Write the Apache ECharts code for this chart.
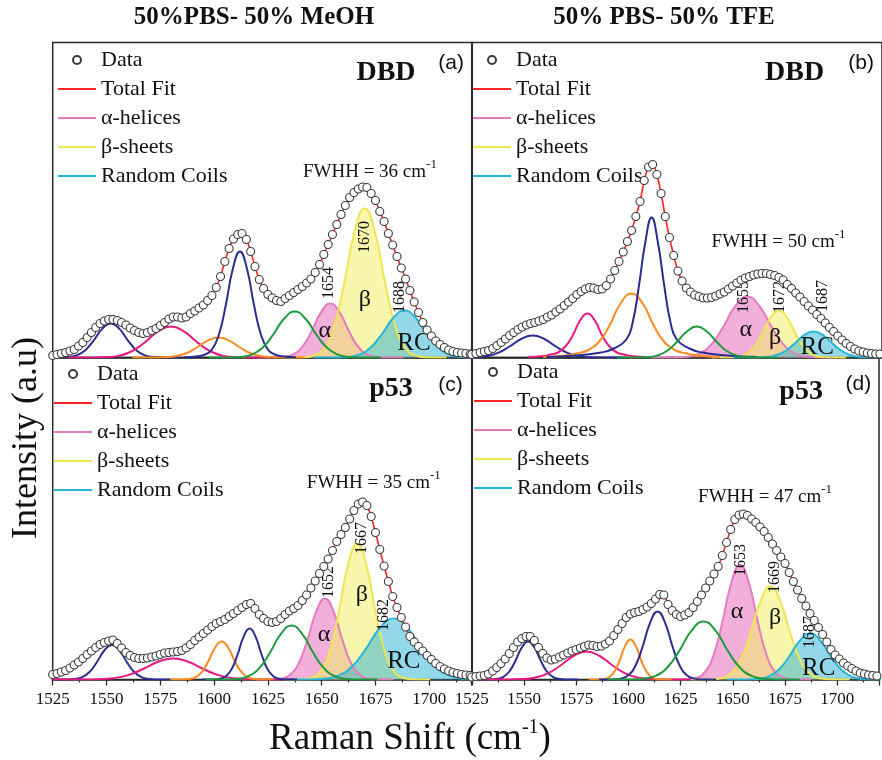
<!DOCTYPE html>
<html><head><meta charset="utf-8">
<script src="https://cdn.jsdelivr.net/npm/echarts@6/dist/echarts.min.js"></script>
<style>html,body{margin:0;padding:0;background:#fff}#c{width:882px;height:760px}</style>
</head><body><div id="c"></div>
<script>
// x grid of the measured spectra (cm^-1)
const ramanShift = []; for (let x = 1525; x <= 1719; x += 2) ramanShift.push(x);

// ---- measured data (a.u.) ----
const aData = [2,3,4,5,6.5,8,11.5,15,20,25,
30,34,36.5,38,38,37,35,32.5,29.5,27,
25,24,25,27,29,32,35,38.5,40.5,40.5,
39.5,40.5,44,46.5,49.5,52.5,57,62,70,81,
96,109,118.5,123,124,118,106,91,78,69,
63,59.5,57,56,59,62,65,68,71,74.5,
78.5,85,93,103,113,123,133,143,152,160,
165,168.5,170.5,170,164,157,146,136,124,112.5,
101,89.5,78.5,67,55.5,45,35,27.5,21.5,16.5,
13,10,7.5,6,5,4.5,4,3.5];
const bData = [3,4,5,6,7,9,12,15,18.5,22,
25,28,30.5,32.5,34,35,36.5,38,40.5,42.5,
45.5,48.5,52,55.5,59,63,66,68.5,70,69.5,
68,68.5,72,78.5,87,96,105.5,116,127,141,
156,177,190.5,193,183,164,141,120,102,86.5,
76.5,69.5,65.5,62.5,61,59.5,59.5,60,61.5,63.5,
65.5,68.5,71.5,74.5,77.5,79.5,81,82.5,83.5,84,
84,83,82,80,77.5,73,69,64.5,60.5,56,
51.5,47.5,43,39,34.5,30,26,21.5,17.5,14,
11,8.5,6.5,5.5,4.5,4,3.5,3.5];
const cData = [5,6,7.5,9,11.5,14.5,17.5,21,25,28.5,
32,35,37,38.5,39.5,36,31.5,27,24,22,
21,21,21.5,22.5,23.5,25,26.5,27,27.5,28,
29,31.5,35,39,42.5,46,49.5,53,56,58,
60,63,66,69,72,75,76,71,65,61,
58,57,58,61,65,68.5,71,74,79,84.5,
91.5,98.5,106,113,120.5,129,138,145,152,160.5,
169,175.5,177.5,174,163,147,130,113.5,98,83,
72,62,52.5,43,37.5,33,28.5,24,20,16,
13,10.5,8.5,7,6,5,4.5,4];
const dData = [2.5,3,3.5,4,5.5,8.5,12,16,20.5,26,
32,37.5,41,43,43,39,32,26,21.5,19.5,
20.5,22.5,24.5,26.5,28.5,30,31.5,33,34.5,34,
33,33.5,35.5,38.5,44,50,56,62,65.5,67,
68,70,72.5,76,80.5,85,84.5,75,69,65,
63,64.5,67,72,78,84.5,91.5,98.5,105.5,113,
124,137,150,160,164.5,165.5,164,160.5,157,152.5,
148,142,135.5,129,122.5,116,107,98,89.5,81,
73.5,66,59,52,45,37.5,30,24.5,20.5,16.5,
13.5,11,8.5,6.5,5.5,4.5,4,3.5];

// ---- fitted bands, [shift, intensity] ----
const aNavy1 = [[1520,0],[1528,0.1],[1532,0.4],[1536,2.1],[1540,7.1],[1544,17],[1548,28.6],[1552,34],[1556,28.6],[1560,17],[1564,7.1],[1568,2.1],[1572,0.4],[1576,0.1],[1584,0]];
const aMagenta = [[1532,0],[1544,0.1],[1550,0.4],[1556,1.9],[1562,6.5],[1568,15.5],[1574,26.1],[1580,31],[1586,26.1],[1592,15.5],[1598,6.5],[1604,1.9],[1610,0.4],[1616,0.1],[1628,0]];
const aOrange = [[1562,0],[1572,0],[1577,0.3],[1582,1.3],[1587,4.2],[1592,10],[1597,16.8],[1602,20],[1607,16.8],[1612,10],[1617,4.2],[1622,1.3],[1627,0.3],[1632,0],[1642,0]];
const aNavy2 = [[1586,0.2],[1592.5,1.2],[1595.75,3],[1599,8],[1602.25,23],[1605.5,53],[1608.75,89],[1612,106],[1615.25,89],[1618.5,53],[1621.75,23],[1625,8],[1628.25,3],[1631.5,1.2],[1638,0.2]];
const aGreen = [[1597.5,0],[1607.5,0.1],[1612.5,0.6],[1617.5,2.9],[1622.5,9.7],[1627.5,23],[1632.5,38.7],[1637.5,46],[1642.5,38.7],[1647.5,23],[1652.5,9.7],[1657.5,2.9],[1662.5,0.6],[1667.5,0.1],[1677.5,0]];
const aAlpha = [[1620,0],[1628.5,0.1],[1632.75,0.7],[1637,3.4],[1641.25,11.3],[1645.5,27],[1649.75,45.4],[1654,54],[1658.25,45.4],[1662.5,27],[1666.75,11.3],[1671,3.4],[1675.25,0.7],[1679.5,0.1],[1688,0]];
const aBeta = [[1632,0],[1641.5,0.3],[1646.25,1.9],[1651,9.3],[1655.75,31.3],[1660.5,74.5],[1665.25,125.3],[1670,149],[1674.75,125.3],[1679.5,74.5],[1684.25,31.3],[1689,9.3],[1693.75,1.9],[1698.5,0.3],[1708,0]];
const aRC = [[1646.5,0],[1657,0.1],[1662.25,0.6],[1667.5,2.9],[1672.75,9.9],[1678,23.5],[1683.25,39.5],[1688.5,47],[1693.75,39.5],[1699,23.5],[1704.25,9.9],[1709.5,2.9],[1714.75,0.6],[1720,0.1],[1730.5,0]];

const bNavy1 = [[1510,0],[1521,0.1],[1526.5,0.3],[1532,1.4],[1537.5,4.6],[1543,11],[1548.5,18.5],[1554,22],[1559.5,18.5],[1565,11],[1570.5,4.6],[1576,1.4],[1581.5,0.3],[1587,0.1],[1598,0]];
const bMagenta = [[1552,0.5],[1559,1.5],[1562.5,3],[1566,5],[1569.5,11],[1573,22],[1576.5,37],[1580,44],[1583.5,37],[1587,22],[1590.5,11],[1594,5],[1597.5,3],[1601,1.5],[1608,0.5]];
const bOrange = [[1559,0.5],[1569.5,2],[1574.75,4],[1580,7],[1585.25,15],[1590.5,32],[1595.75,54],[1601,64],[1606.25,54],[1611.5,32],[1616.75,15],[1622,7],[1627.25,4],[1632.5,2],[1643,0.5]];
const bNavy2 = [[1560.5,0.5],[1574.5,2],[1586.5,5],[1592.5,9],[1598.5,18],[1601.5,35],[1604.5,72],[1607.5,115],[1610.5,140],[1613.5,115],[1616.5,72],[1619.5,35],[1622.5,18],[1628.5,9],[1634.5,5],[1646.5,2],[1660.5,0.5]];
const bGreen = [[1594,0],[1603.5,0.1],[1608.25,0.4],[1613,1.9],[1617.75,6.5],[1622.5,15.5],[1627.25,26],[1632,31],[1636.75,26],[1641.5,15.5],[1646.25,6.5],[1651,1.9],[1655.75,0.4],[1660.5,0.1],[1670,0]];
const bAlpha = [[1610,0],[1621.5,0.1],[1627.25,0.8],[1633,3.8],[1638.75,12.8],[1644.5,30.5],[1650.25,51.3],[1656,61],[1661.75,51.3],[1667.5,30.5],[1673.25,12.8],[1679,3.8],[1684.75,0.8],[1690.5,0.1],[1702,0]];
const bBeta = [[1639,0],[1647,0.1],[1651,0.6],[1655,2.9],[1659,9.9],[1663,23.5],[1667,39.5],[1671,47],[1675,39.5],[1679,23.5],[1683,9.9],[1687,2.9],[1691,0.6],[1695,0.1],[1703,0]];
const bRC = [[1649.5,0],[1659,0],[1663.75,0.3],[1668.5,1.6],[1673.25,5.5],[1678,13],[1682.75,21.9],[1687.5,26],[1692.25,21.9],[1697,13],[1701.75,5.5],[1706.5,1.6],[1711.25,0.3],[1716,0],[1725.5,0]];

const cNavy1 = [[1524.5,0],[1531.5,0.1],[1535,0.4],[1538.5,2.2],[1542,7.2],[1545.5,17.3],[1549,29],[1552.5,34.5],[1556,29],[1559.5,17.3],[1563,7.2],[1566.5,2.2],[1570,0.4],[1573.5,0.1],[1580.5,0]];
const cMagenta = [[1525,0],[1539,0],[1546,0.3],[1553,1.3],[1560,4.4],[1567,10.5],[1574,17.7],[1581,21],[1588,17.7],[1595,10.5],[1602,4.4],[1609,1.3],[1616,0.3],[1623,0],[1637,0]];
const cOrange = [[1579.5,0],[1585.5,0.1],[1588.5,0.5],[1591.5,2.4],[1594.5,8],[1597.5,19],[1600.5,32],[1603.5,38],[1606.5,32],[1609.5,19],[1612.5,8],[1615.5,2.4],[1618.5,0.5],[1621.5,0.1],[1627.5,0]];
const cNavy2 = [[1594.5,0],[1600,0.1],[1602.75,0.7],[1605.5,3.2],[1608.25,10.7],[1611,25.5],[1613.75,42.9],[1616.5,51],[1619.25,42.9],[1622,25.5],[1624.75,10.7],[1627.5,3.2],[1630.25,0.7],[1633,0.1],[1638.5,0]];
const cGreen = [[1596,0],[1606,0.1],[1611,0.7],[1616,3.4],[1621,11.3],[1626,27],[1631,45.4],[1636,54],[1641,45.4],[1646,27],[1651,11.3],[1656,3.4],[1661,0.7],[1666,0.1],[1676,0]];
const cAlpha = [[1619.5,0],[1627.5,0.2],[1631.5,1.1],[1635.5,5.1],[1639.5,17],[1643.5,40.5],[1647.5,68.1],[1651.5,81],[1655.5,68.1],[1659.5,40.5],[1663.5,17],[1667.5,5.1],[1671.5,1.1],[1675.5,0.2],[1683.5,0]];
const cBeta = [[1632.5,0],[1641,0.3],[1645.25,1.8],[1649.5,8.5],[1653.75,28.6],[1658,68],[1662.25,114.4],[1666.5,136],[1670.75,114.4],[1675,68],[1679.25,28.6],[1683.5,8.5],[1687.75,1.8],[1692,0.3],[1700.5,0]];
const cRC = [[1631.5,0],[1644.5,0.1],[1651,0.8],[1657.5,3.8],[1664,12.8],[1670.5,30.5],[1677,51.3],[1683.5,61],[1690,51.3],[1696.5,30.5],[1703,12.8],[1709.5,3.8],[1716,0.8],[1722.5,0.1],[1735.5,0]];

const dNavy1 = [[1528,0],[1534,0.1],[1537,0.5],[1540,2.4],[1543,8],[1546,19],[1549,32],[1552,38],[1555,32],[1558,19],[1561,8],[1564,2.4],[1567,0.5],[1570,0.1],[1576,0]];
const dMagenta = [[1530,0],[1542.5,0.1],[1548.75,0.4],[1555,1.8],[1561.25,5.9],[1567.5,14],[1573.75,23.5],[1580,28],[1586.25,23.5],[1592.5,14],[1598.75,5.9],[1605,1.8],[1611.25,0.4],[1617.5,0.1],[1630,0]];
const dOrange = [[1581,0],[1586,0.1],[1588.5,0.5],[1591,2.5],[1593.5,8.4],[1596,20],[1598.5,33.6],[1601,40],[1603.5,33.6],[1606,20],[1608.5,8.4],[1611,2.5],[1613.5,0.5],[1616,0.1],[1621,0]];
const dNavy2 = [[1586,0],[1593,0.1],[1596.5,0.9],[1600,4.3],[1603.5,14.3],[1607,34],[1610.5,57.2],[1614,68],[1617.5,57.2],[1621,34],[1624.5,14.3],[1628,4.3],[1631.5,0.9],[1635,0.1],[1642,0]];
const dGreen = [[1590,0],[1601.5,0.1],[1607.25,0.8],[1613,3.6],[1618.75,12.2],[1624.5,29],[1630.25,48.8],[1636,58],[1641.75,48.8],[1647.5,29],[1653.25,12.2],[1659,3.6],[1664.75,0.8],[1670.5,0.1],[1682,0]];
const dAlpha = [[1619.5,0],[1628,0.2],[1632.25,1.5],[1636.5,7.2],[1640.75,24],[1645,57.3],[1649.25,96.3],[1653.5,114.5],[1657.75,96.3],[1662,57.3],[1666.25,24],[1670.5,7.2],[1674.75,1.5],[1679,0.2],[1687.5,0]];
const dBeta = [[1630,0],[1639.5,0.2],[1644.25,1.2],[1649,5.8],[1653.75,19.5],[1658.5,46.5],[1663.25,78.2],[1668,93],[1672.75,78.2],[1677.5,46.5],[1682.25,19.5],[1687,5.8],[1691.75,1.2],[1696.5,0.2],[1706,0]];
const dRC = [[1647,0],[1657,0.1],[1662,0.6],[1667,2.9],[1672,9.7],[1677,23],[1682,38.7],[1687,46],[1692,38.7],[1697,23],[1702,9.7],[1707,2.9],[1712,0.6],[1717,0.1],[1727,0]];

// ---- texts ----
const columnTitles = ['50%PBS- 50% MeOH', '50% PBS- 50% TFE'];
const legendNames = ['Data', 'Total Fit', 'α-helices', 'β-sheets', 'Random Coils'];
const tickValues = [1525, 1550, 1575, 1600, 1625, 1650, 1675, 1700];
const peakLabels = [[0,1653.2,74.5,'1654'],[0,1670.1,120.5,'1670'],[0,1686.4,60.5,'1688'],
  [1,1654.3,60.5,'1655'],[1,1671.5,60.5,'1672'],[1,1692,61.5,'1687'],
  [2,1653.2,97.5,'1652'],[2,1668.5,141.5,'1667'],[2,1678.7,64.5,'1682'],
  [3,1653.9,119.5,'1653'],[3,1670.2,102.5,'1669'],[3,1686.9,47.5,'1687']];
const structLabels = [[0,1651.5,26.5,'α'],[0,1670.1,57.5,'β'],[0,1692.9,14.5,'RC'],
  [1,1655.3,27.5,'α'],[1,1669.2,19.5,'β'],[1,1689.2,10.5,'RC'],
  [2,1651.1,44.5,'α'],[2,1668.7,84.5,'β'],[2,1688.2,18.5,'RC'],
  [3,1652,67.5,'α'],[3,1670.2,61.5,'β'],[3,1691.1,11.5,'RC']];
const fwhhLabels = [[0,1641.3,187.5,'36'],[1,1639,117.5,'50'],[2,1643.1,198.5,'35'],[3,1633.4,184.5,'47']];
const sampleLabels = [[0,1679.9,284.5,'DBD'],[1,1678.5,284.5,'DBD'],[2,1682.2,290.5,'p53'],[3,1682.7,287.5,'p53']];
const panelTags = [[0,1704.2,294.5,'(a)'],[1,1704,294.5,'(b)'],[2,1704.2,294.5,'(c)'],[3,1704,295.5,'(d)']];

const panels = [
  {data: aData, comps: [aNavy1, aMagenta, aOrange, aNavy2, aGreen], alpha: aAlpha, beta: aBeta, rc: aRC},
  {data: bData, comps: [bNavy1, bMagenta, bOrange, bNavy2, bGreen], alpha: bAlpha, beta: bBeta, rc: bRC},
  {data: cData, comps: [cNavy1, cMagenta, cOrange, cNavy2, cGreen], alpha: cAlpha, beta: cBeta, rc: cRC},
  {data: dData, comps: [dNavy1, dMagenta, dOrange, dNavy2, dGreen], alpha: dAlpha, beta: dBeta, rc: dRC}
];

const SERIF = '"Liberation Serif", "Times New Roman", serif';
const gridBoxes = [
  {left: 52.7, top: 42.5, width: 419.6, height: 315},
  {left: 471.7, top: 42.5, width: 419.6, height: 315},
  {left: 52.7, top: 357.5, width: 419.6, height: 322},
  {left: 471.7, top: 357.5, width: 419.6, height: 322}
];
const yMax = [315, 315, 322, 322];
const compColors = ['#2b2d92', '#e8197f', '#ff8a1e', '#2b2d92', '#1d9a3e'];

const chart = echarts.init(document.getElementById('c'), null, {renderer: 'canvas'});

const series = [];
panels.forEach((p, i) => {
  const ax = {xAxisIndex: i, yAxisIndex: i};
  [[p.alpha, 'α-helices', '#e47cc0', 'rgba(232,110,188,0.55)'],
   [p.beta, 'β-sheets', '#eee650', 'rgba(243,237,105,0.55)'],
   [p.rc, 'Random Coils', '#27b6d6', 'rgba(40,178,212,0.5)']].forEach(([d, n, lc, fc]) => {
    series.push({type: 'line', name: n, ...ax, data: d, smooth: 0.5, symbol: 'none',
      itemStyle: {color: lc}, lineStyle: {color: lc, width: 2}, areaStyle: {color: fc, opacity: 1}, z: 2});
  });
  p.comps.forEach((d, k) => {
    series.push({type: 'line', name: 'band' + i + k, ...ax, data: d, smooth: 0.5, symbol: 'none',
      itemStyle: {color: compColors[k]}, lineStyle: {color: compColors[k], width: 2}, z: 2});
  });
  const pts = ramanShift.map((x, j) => [x, p.data[j]]);
  series.push({type: 'line', name: 'Total Fit', ...ax, data: pts, smooth: 0.3, symbol: 'none',
    itemStyle: {color: '#ff2424'}, lineStyle: {color: '#ff2424', width: 1.6}, z: 3});
  series.push({type: 'scatter', name: 'Data', ...ax, data: pts, symbol: 'circle', symbolSize: 8,
    itemStyle: {color: '#ffffff', borderColor: '#3a3a3a', borderWidth: 1.1, opacity: 1}, z: 5});
});

const legendPos = [{left: 57, top: 49}, {left: 472, top: 49}, {left: 53, top: 363}, {left: 473, top: 361}];
const legendData = legendNames.map(n => n === 'Data' ? {name: n} : {name: n, itemStyle: {opacity: 0}});

chart.setOption({
  animation: false,
  backgroundColor: '#fff',
  grid: gridBoxes.map(g => Object.assign({show: true, borderColor: '#2a2a2a', borderWidth: 1.5, backgroundColor: 'transparent', containLabel: false}, g)),
  xAxis: gridBoxes.map((g, i) => ({
    type: 'value', gridIndex: i, min: 1525, max: 1720, interval: 25,
    axisLine: {show: true, onZero: false, lineStyle: {color: '#2a2a2a', width: 1.5}},
    axisTick: {show: i >= 2, length: 6, inside: false, lineStyle: {color: '#2a2a2a', width: 1.3}},
    minorTick: {show: i >= 2, splitNumber: 2, length: 3, lineStyle: {color: '#2a2a2a', width: 1.2}},
    axisLabel: {show: i >= 2, fontFamily: SERIF, fontSize: 17, color: '#111', margin: 12,
      formatter: v => tickValues.includes(v) ? String(v) : ''},
    splitLine: {show: false}, minorSplitLine: {show: false}
  })),
  yAxis: gridBoxes.map((g, i) => ({
    type: 'value', gridIndex: i, min: 0, max: yMax[i], show: false, splitLine: {show: false}
  })),
  legend: legendPos.map(pos => Object.assign({
    orient: 'vertical', data: legendData, itemWidth: 38, itemHeight: 8, itemGap: 7, padding: 0,
    selectedMode: false, textStyle: {fontFamily: SERIF, fontSize: 22, color: '#111'}
  }, pos)),
  series
});

const px = (g, x, y) => chart.convertToPixel({gridIndex: g}, [x, y]);
const elements = [];
peakLabels.forEach(([g, x, y, t]) => {
  const [X, Y] = px(g, x, y);
  elements.push({type: 'text', x: X, y: Y, rotation: Math.PI / 2, z: 4,
    style: {text: t, fontFamily: SERIF, fontSize: 16, fill: '#111', align: 'center', verticalAlign: 'middle'}});
});
structLabels.forEach(([g, x, y, t]) => {
  const [X, Y] = px(g, x, y);
  elements.push({type: 'text', x: X, y: Y, z: 4,
    style: {text: t, fontFamily: SERIF, fontSize: t === 'RC' ? 25 : 24, fill: '#111', align: 'center', verticalAlign: 'middle'}});
});
fwhhLabels.forEach(([g, x, y, t]) => {
  const [X, Y] = px(g, x, y);
  elements.push({type: 'text', x: X, y: Y, z: 4,
    style: {text: '{m|FWHH = ' + t + ' cm}{s|-1}', align: 'left', verticalAlign: 'middle',
      rich: {m: {fontFamily: SERIF, fontSize: 19, fill: '#111', lineHeight: 24, verticalAlign: 'bottom'},
             s: {fontFamily: SERIF, fontSize: 13, fill: '#111', lineHeight: 14, verticalAlign: 'top'}}}});
});
sampleLabels.forEach(([g, x, y, t]) => {
  const [X, Y] = px(g, x, y);
  elements.push({type: 'text', x: X, y: Y, z: 4,
    style: {text: t, fontFamily: SERIF, fontWeight: 'bold', fontSize: 28, fill: '#111', align: 'center', verticalAlign: 'middle'}});
});
panelTags.forEach(([g, x, y, t]) => {
  const [X, Y] = px(g, x, y);
  elements.push({type: 'text', x: X, y: Y, z: 4,
    style: {text: t, fontFamily: '"Liberation Sans", Arial, sans-serif', fontSize: 21, fill: '#111', align: 'left', verticalAlign: 'middle'}});
});
columnTitles.forEach((t, i) => {
  elements.push({type: 'text', x: i === 0 ? 254 : 664, y: 18, z: 4,
    style: {text: t, fontFamily: SERIF, fontWeight: 'bold', fontSize: 25, fill: '#111', align: 'center', verticalAlign: 'middle'}});
});
elements.push({type: 'text', x: 27, y: 438, rotation: Math.PI / 2, z: 4,
  style: {text: 'Intensity (a.u)', fontFamily: SERIF, fontSize: 36, fill: '#111', align: 'center', verticalAlign: 'middle'}});
elements.push({type: 'text', x: 410, y: 738, z: 4,
  style: {text: '{m|Raman Shift (cm}{s|-1}{m|)}', align: 'center', verticalAlign: 'middle',
    rich: {m: {fontFamily: SERIF, fontSize: 37, fill: '#111', lineHeight: 40, verticalAlign: 'bottom'},
           s: {fontFamily: SERIF, fontSize: 20, fill: '#111', lineHeight: 20, verticalAlign: 'top'}}}});
chart.setOption({graphic: {elements}});
</script>
</body></html>
